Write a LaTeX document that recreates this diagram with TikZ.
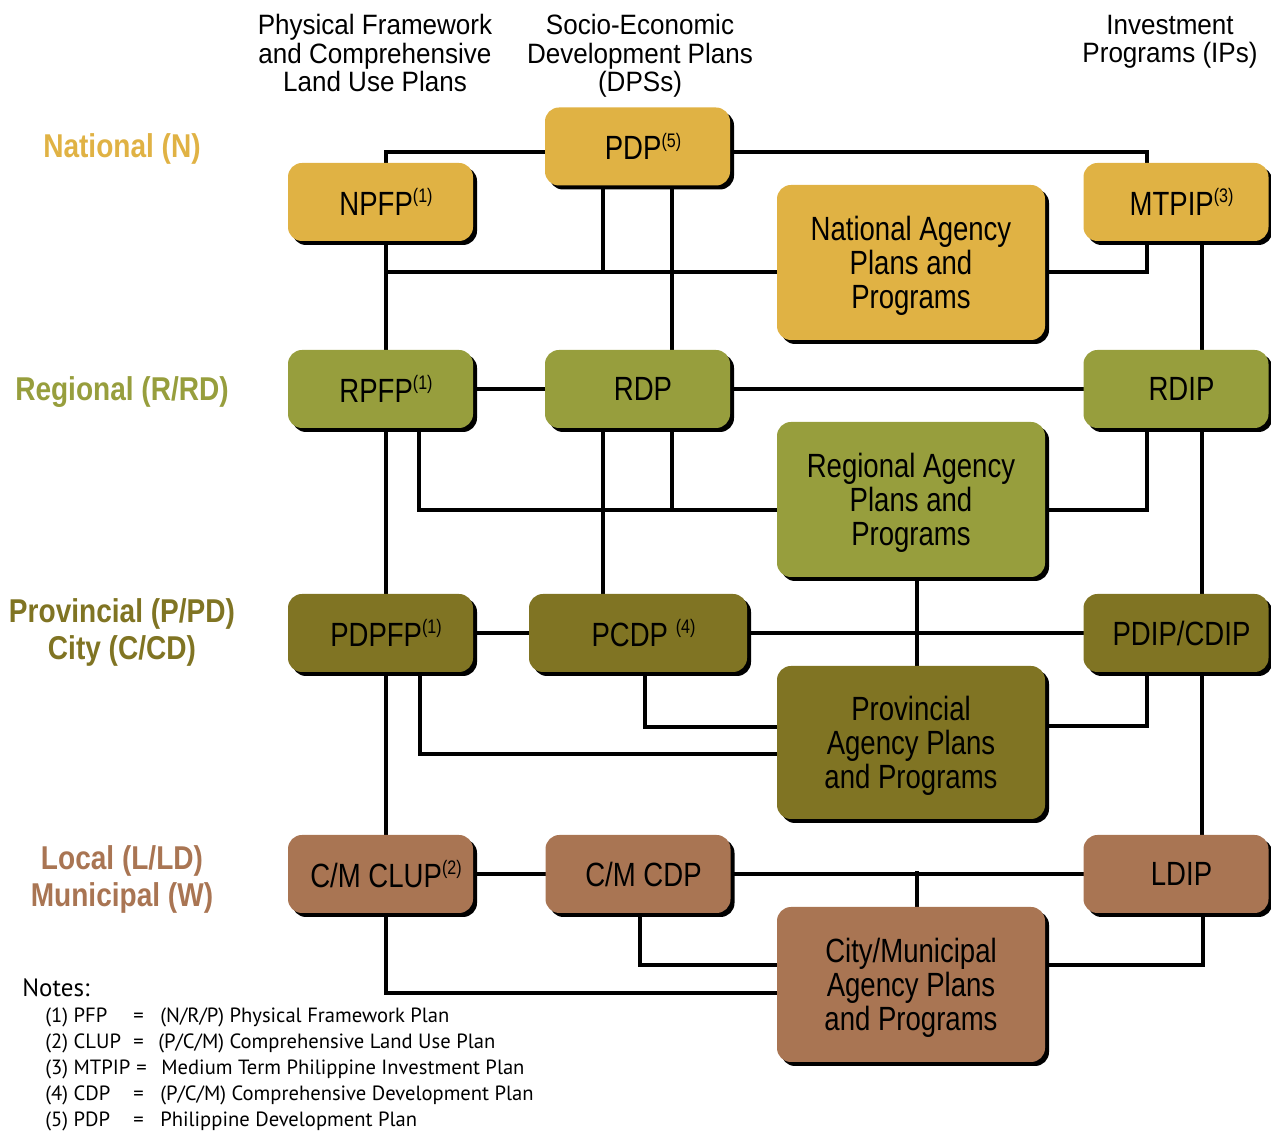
\documentclass[tikz,border=0pt]{standalone}
\usepackage{fontspec}
\usetikzlibrary{shadows,backgrounds}
\setmainfont{Liberation Sans}
\newfontfamily\boxfam[FakeStretch=0.82]{Liberation Sans}
\newfontfamily\headfam[FakeStretch=0.93]{Liberation Sans}
\newfontfamily\lvlfam[FakeStretch=0.85]{Liberation Sans}
\newfontfamily\notefam{PT Sans}
\definecolor{natc}{HTML}{E0B244}
\definecolor{regc}{HTML}{979E3D}
\definecolor{prvc}{HTML}{807423}
\definecolor{locc}{HTML}{A97553}
\newcommand\supx[1]{\raisebox{6.3pt}{\fontsize{9.8}{9.8}\selectfont(#1)}}
\tikzset{
  box/.style={rounded corners=7pt, inner sep=0pt, align=center,
    font=\boxfam\fontsize{16.8}{17}\selectfont, text=black,
    drop shadow={shadow xshift=2pt,shadow yshift=-2pt,opacity=1,fill=black}},
  sm/.style={minimum width=92.5pt, minimum height=39pt,
    execute at begin node={\hspace*{5.5pt}}},
  big/.style={minimum width=134pt, minimum height=77.5pt, text depth=0pt},
  nat/.style={box, fill=natc},
  reg/.style={box, fill=regc},
  prv/.style={box, fill=prvc},
  loc/.style={box, fill=locc},
  link/.style={line width=1.7pt, line cap=rect},
  head/.style={inner sep=0pt, align=center, text depth=0pt, font=\headfam\fontsize{14}{14.25}\selectfont},
  lvl/.style={inner sep=0pt, align=center, text depth=0pt, font=\lvlfam\bfseries\fontsize{16.5}{18.5}\selectfont},
  note/.style={inner sep=0pt, anchor=base west, font=\notefam\fontsize{10.3}{12}\selectfont},
}
\begin{document}
\begin{tikzpicture}[x=0.5pt,y=-0.5pt]
\useasboundingbox (0,0) rectangle (1271,1133);
% headers
\node[head] (h1) at (375,53) {Physical Framework\\and Comprehensive\\Land Use Plans};
\node[head] (h2) at (640,53) {Socio-Economic\\Development Plans\\(DPSs)};
\node[head] (h3) at (1170,39) {Investment\\Programs (IPs)};
% level labels
\node[lvl, text=natc] (lN) at (122,146) {National (N)};
\node[lvl, text=regc] (lR) at (122,389) {Regional (R/RD)};
\node[lvl, text=prvc] (lP) at (122,629) {Provincial (P/PD)\\City (C/CD)};
\node[lvl, text=locc] (lL) at (122,876) {Local (L/LD)\\Municipal (W)};
% national
\node[nat, sm] (NPFP) at (380.5,202) {NPFP\supx{1}};
\node[nat, sm] (PDP) at (637.5,146.5) {PDP\supx{5}};
\node[nat, sm] (MTPIP) at (1176,202) {MTPIP\supx{3}};
\node[nat, big] (NatAg) at (911,262.5) {National Agency\\Plans and\\Programs};
% regional
\node[reg, sm] (RPFP) at (380.5,389) {RPFP\supx{1}};
\node[reg, sm] (RDP) at (637.5,389) {RDP};
\node[reg, sm] (RDIP) at (1176,389) {RDIP};
\node[reg, big] (RegAg) at (911,499.5) {Regional Agency\\Plans and\\Programs};
% provincial
\node[prv, sm] (PDPFP) at (380.5,633) {PDPFP\supx{1}};
\node[prv, sm, minimum width=109pt] (PCDP) at (638,633) {PCDP \supx{4}};
\node[prv, sm] (PDIP) at (1176,633) {PDIP/CDIP};
\node[prv, big, minimum height=76.5pt] (ProvAg) at (911,742.5) {Provincial\\Agency Plans\\and Programs};
% local
\node[loc, sm] (CLUP) at (380.5,874) {C/M CLUP\supx{2}};
\node[loc, sm] (CDP) at (638,874) {C/M CDP};
\node[loc, sm] (LDIP) at (1176,874) {LDIP};
\node[loc, big] (CityAg) at (911,984.5) {City/Municipal\\Agency Plans\\and Programs};
% connectors
\begin{scope}[on background layer]
\draw[link] (PDP.west |- 0,152) -| (386,0 |- NPFP.north);
\draw[link] (PDP.east |- 0,152) -| (1147,0 |- MTPIP.north);
\draw[link] (603,0 |- PDP.south) -- (603,272);
\draw[link] (386,272) -- (NatAg.west |- 0,272);
\draw[link] (386,0 |- NPFP.south) -- (386,0 |- RPFP.north);
\draw[link] (672,0 |- PDP.south) -- (672,0 |- RDP.north);
\draw[link] (NatAg.east |- 0,272) -| (1147,0 |- MTPIP.south);
\draw[link] (1202,0 |- MTPIP.south) -- (1202,0 |- RDIP.north);
% regional
\draw[link] (RPFP.east) -- (RDP.west);
\draw[link] (RDP.east) -- (RDIP.west);
\draw[link] (386,0 |- RPFP.south) -- (386,0 |- PDPFP.north);
\draw[link] (419,0 |- RPFP.south) |- (RegAg.west |- 0,510);
\draw[link] (603,0 |- RDP.south) -- (603,0 |- PCDP.north);
\draw[link] (672,0 |- RDP.south) -- (672,510);
\draw[link] (RegAg.east |- 0,510) -| (1147,0 |- RDIP.south);
\draw[link] (1202,0 |- RDIP.south) -- (1202,0 |- PDIP.north);
\draw[link] (917,0 |- RegAg.south) -- (917,0 |- ProvAg.north);
% provincial
\draw[link] (PDPFP.east) -- (PCDP.west);
\draw[link] (PCDP.east) -- (PDIP.west);
\draw[link] (386,0 |- PDPFP.south) -- (386,0 |- CLUP.north);
\draw[link] (420,0 |- PDPFP.south) |- (ProvAg.west |- 0,754);
\draw[link] (645,0 |- PCDP.south) |- (ProvAg.west |- 0,727);
\draw[link] (ProvAg.east |- 0,726) -| (1147,0 |- PDIP.south);
\draw[link] (1202,0 |- PDIP.south) -- (1202,0 |- LDIP.north);
% local
\draw[link] (CLUP.east) -- (CDP.west);
\draw[link] (CDP.east) -- (LDIP.west);
\draw[link] (917,873) -- (917,0 |- CityAg.north);
\draw[link] (386,0 |- CLUP.south) |- (CityAg.west |- 0,993);
\draw[link] (640,0 |- CDP.south) |- (CityAg.west |- 0,965);
\draw[link] (CityAg.east |- 0,965) -| (1203,0 |- LDIP.south);
\end{scope}
% notes
\node[note, font=\notefam\fontsize{12.5}{13}\selectfont] (notes) at (22,997) {Notes:};
\node[note] (n1a) at (45,1023) {(1) PFP};
\node[note] (n1b) at (133,1023) {=};
\node[note] (n1c) at (160,1023) {(N/R/P) Physical Framework Plan};
\node[note] (n2a) at (45,1049) {(2) CLUP};
\node[note] (n2b) at (133,1049) {=};
\node[note] (n2c) at (158,1049) {(P/C/M) Comprehensive Land Use Plan};
\node[note] (n3a) at (45,1075) {(3) MTPIP};
\node[note] (n3b) at (136,1075) {=};
\node[note] (n3c) at (161,1075) {Medium Term Philippine Investment Plan};
\node[note] (n4a) at (45,1101) {(4) CDP};
\node[note] (n4b) at (133,1101) {=};
\node[note] (n4c) at (160,1101) {(P/C/M) Comprehensive Development Plan};
\node[note] (n5a) at (45,1127) {(5) PDP};
\node[note] (n5b) at (133,1127) {=};
\node[note] (n5c) at (160,1127) {Philippine Development Plan};
\end{tikzpicture}
\end{document}
